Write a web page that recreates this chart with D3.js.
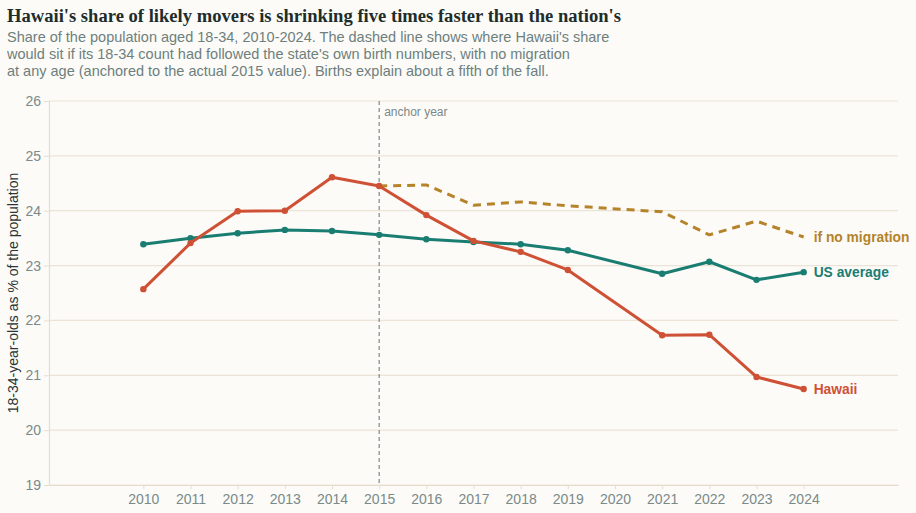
<!DOCTYPE html>
<html><head><meta charset="utf-8">
<script src="https://cdn.jsdelivr.net/npm/d3@7"></script>
<style>
html,body{margin:0;padding:0;background:#fcfbf8;}
svg{display:block;}
</style></head>
<body>
<svg id="c" width="916" height="513"></svg>
<script>
const years = [2010,2011,2012,2013,2014,2015,2016,2017,2018,2019,2020,2021,2022,2023,2024];
const hawaii = [22.57,23.41,23.99,24.00,24.61,24.45,23.92,23.45,23.25,22.92,null,21.73,21.74,20.97,20.75];
const usAvg  = [23.39,23.50,23.59,23.65,23.63,23.56,23.48,23.43,23.39,23.28,null,22.85,23.07,22.74,22.88];
const noMigration = [null,null,null,null,null,24.45,24.47,24.10,24.16,24.09,null,23.98,23.56,23.81,23.52];
const yTicks = [19,20,21,22,23,24,25,26];
const anchorYear = 2015;

const svg = d3.select("#c");
const W = 916, H = 513;
const x = d3.scaleLinear().domain([2008, 2026]).range([49, 898]);
const y = d3.scaleLinear().domain([19, 26]).range([485, 101]);
const sans = "'Liberation Sans', Arial, sans-serif";

svg.append("rect").attr("width", W).attr("height", H).attr("fill", "#fcfbf8");

// title
svg.append("text").attr("x", 7).attr("y", 22)
  .attr("font-family", "'Liberation Serif', 'Times New Roman', serif")
  .attr("font-weight", "bold").attr("font-size", 18.6).attr("fill", "#1d2d2b")
  .text("Hawaii's share of likely movers is shrinking five times faster than the nation's");
const sub = [
  "Share of the population aged 18-34, 2010-2024. The dashed line shows where Hawaii's share",
  "would sit if its 18-34 count had followed the state's own birth numbers, with no migration",
  "at any age (anchored to the actual 2015 value). Births explain about a fifth of the fall."
];
svg.append("g").selectAll("text").data(sub).join("text")
  .attr("x", 7).attr("y", (d, i) => 42 + i * 17)
  .attr("font-family", sans).attr("font-size", 14.5).attr("fill", "#6e7f7d")
  .text(d => d);

// gridlines
svg.append("g").selectAll("line").data(yTicks).join("line")
  .attr("x1", 49).attr("x2", 898)
  .attr("y1", d => y(d)).attr("y2", d => y(d))
  .attr("stroke", "#ebe3d6").attr("stroke-width", 1.2);

// y axis
const yAxis = svg.append("g").attr("transform", "translate(49,0)")
  .call(d3.axisLeft(y).tickValues(yTicks).tickFormat(d3.format("d")).tickSize(5));
yAxis.select(".domain").attr("stroke", "#e6ddcf").attr("stroke-width", 1.2);
yAxis.selectAll(".tick line").attr("stroke", "#e6ddcf");
yAxis.selectAll(".tick text").attr("font-family", sans).attr("font-size", 14).attr("fill", "#7a8a88");

// x axis
const xAxis = svg.append("g").attr("transform", "translate(0,485)")
  .call(d3.axisBottom(x).tickValues(years).tickFormat(d3.format("d")).tickSize(4).tickSizeOuter(0));
xAxis.select(".domain").attr("stroke", "#e6ddcf").attr("stroke-width", 1.2);
xAxis.selectAll(".tick line").attr("stroke", "#e6ddcf");
xAxis.selectAll(".tick text").attr("font-family", sans).attr("font-size", 14).attr("fill", "#7a8a88").attr("dy", "0.85em");

// y label
svg.append("text").attr("transform", "translate(18," + ((101 + 485) / 2) + ") rotate(-90)")
  .attr("text-anchor", "middle").attr("font-family", sans).attr("font-size", 14).attr("fill", "#2a3534")
  .text("18-34-year-olds as % of the population");

// anchor line
svg.append("line").attr("x1", x(anchorYear)).attr("x2", x(anchorYear))
  .attr("y1", y(26)).attr("y2", y(19))
  .attr("stroke", "#7d8a8a").attr("stroke-width", 1.2).attr("stroke-dasharray", "4,3");
svg.append("text").attr("x", x(anchorYear) + 5).attr("y", 116)
  .attr("font-family", sans).attr("font-size", 12).attr("fill", "#7a8a88").text("anchor year");

function pts(arr) { return years.map((yr, i) => ({yr, v: arr[i]})).filter(d => d.v != null); }
const line = d3.line().x(d => x(d.yr)).y(d => y(d.v));

const series = [
  {name: "if no migration", data: noMigration, color: "#b5832a", dash: "8,6", dots: false},
  {name: "US average", data: usAvg, color: "#1a7d72", dash: null, dots: true},
  {name: "Hawaii", data: hawaii, color: "#cf5135", dash: null, dots: true}
];
series.forEach(s => {
  const p = pts(s.data);
  svg.append("path").datum(p).attr("d", line).attr("fill", "none")
    .attr("stroke", s.color).attr("stroke-width", 3)
    .attr("stroke-dasharray", s.dash).attr("stroke-linejoin", "round");
  if (s.dots) {
    svg.append("g").selectAll("circle").data(p).join("circle")
      .attr("cx", d => x(d.yr)).attr("cy", d => y(d.v)).attr("r", 3.2).attr("fill", s.color);
  }
  const last = p[p.length - 1];
  svg.append("text").attr("x", x(last.yr) + 10).attr("y", y(last.v)).attr("dy", "0.35em")
    .attr("font-family", sans).attr("font-weight", "bold").attr("font-size", 13.8).attr("fill", s.color)
    .text(s.name);
});
</script>
</body></html>
